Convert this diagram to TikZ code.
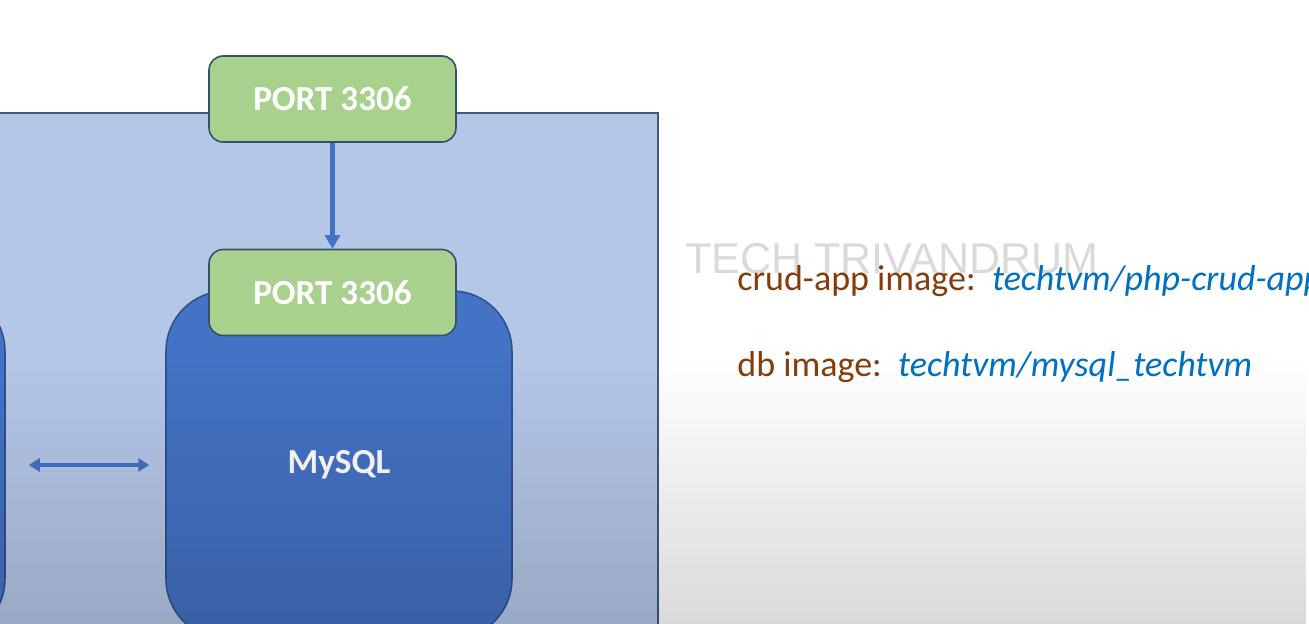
\documentclass[tikz,border=0pt]{standalone}
\usepackage{fontspec}
\setmainfont{Carlito}
\newfontfamily\wmfont{Liberation Sans}
\usetikzlibrary{positioning,arrows.meta,fadings}

\definecolor{hostbg}{HTML}{B4C7E7}
\definecolor{hostline}{HTML}{42597C}
\definecolor{portfill}{HTML}{A9D18E}
\definecolor{portline}{HTML}{34506B}
\definecolor{contfill}{HTML}{4472C4}
\definecolor{contline}{HTML}{2F528F}
\definecolor{arrowblue}{HTML}{4472C4}
\definecolor{infobrown}{HTML}{843C0C}
\definecolor{infoblue}{HTML}{0070C0}
\definecolor{wmgray}{HTML}{DADADA}

\tikzfading[name=videoshade, top color=transparent!100, bottom color=transparent!0]

\begin{document}
\begin{tikzpicture}[x=0.02cm, y=-0.02cm]
        \tikzstyle{port}=[draw=portline, fill=portfill, rounded corners=0.28cm, line width=0.9pt,
                          minimum width=4.94cm, minimum height=1.72cm, text=white,
                          font=\fontsize{20}{24}\selectfont\bfseries]
        \tikzstyle{cont}=[draw=contline, fill=contfill, rounded corners=1.2cm, line width=0.9pt,
                          minimum width=6.92cm, minimum height=6.96cm, text=white,
                          font=\fontsize{20}{24}\selectfont\bfseries]
        \tikzstyle{info}=[anchor=base west, inner sep=0pt, text=infobrown,
                          font=\fontsize{20.5}{24}\selectfont]
        \tikzstyle{wm}=[anchor=base west, inner sep=0pt, text=wmgray,
                        font=\wmfont\fontsize{24.5}{28}\selectfont]

        \useasboundingbox (0,0) rectangle (1309,624);
        \clip (0,0) rectangle (1309,624);
        \fill[white] (0,0) rectangle (1309,624);

        % docker host
        \draw[draw=hostline, fill=hostbg, line width=1.2pt] (-20,113) rectangle (658,700);

        \node   (app)      [cont] at (-168,465) {};
        \node   (mysql)    [cont] at (339,465) {MySQL};
        \node   (dbport)   [port] at (332.5,292.5) {PORT 3306};
        \node   (hostport) [port] at (332.5,99) {PORT 3306};

        \draw[-{Triangle[length=0.27cm, width=0.3cm]}, arrowblue, line width=2.8pt]
            (hostport) -- (dbport);
        \draw[{Triangle[length=0.22cm, width=0.26cm]}-{Triangle[length=0.22cm, width=0.26cm]},
              arrowblue, line width=2pt, shorten <=0.46cm, shorten >=0.32cm]
            (app) -- (mysql);

        % darker bottom of the frame
        \fill[black, opacity=0.16, path fading=videoshade] (0,360) rectangle (1309,650);

        \node   (mark) [wm]   at (685,274) {TECH TRIVANDRUM};
        \node   (crud) [info] at (737,291) {crud-app image:\ \ \textcolor{infoblue}{\itshape techtvm/php-crud-app}};
        \node   (db)   [info] at (737,377) {db image:\ \ \textcolor{infoblue}{\itshape techtvm/mysql\_techtvm}};
\end{tikzpicture}
\end{document}
